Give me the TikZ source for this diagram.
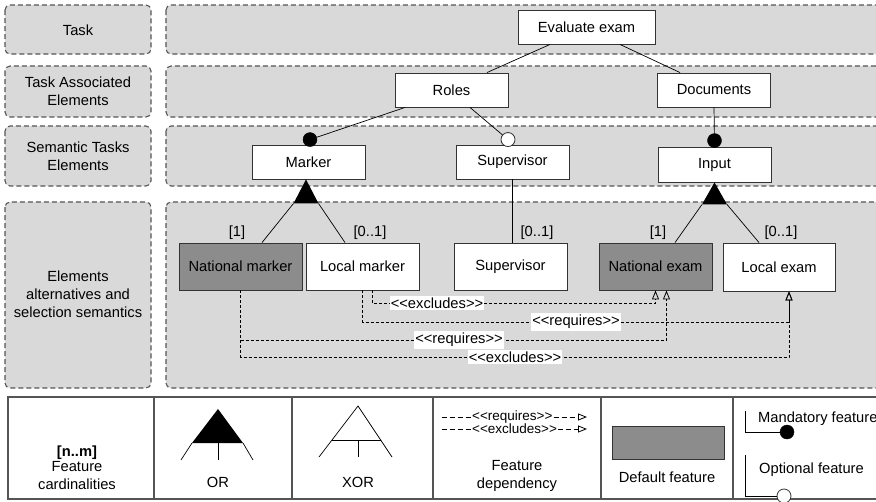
\documentclass[tikz,border=0pt]{standalone}
\usepackage{fontspec}
\setmainfont{Liberation Sans}
\usetikzlibrary{arrows.meta,calc}

\definecolor{lanefill}{HTML}{D9D9D9}
\definecolor{laneline}{HTML}{555555}
\definecolor{deffill}{HTML}{8C8C8C}
\definecolor{boxline}{HTML}{333333}

% stereotype text with plain angle brackets (no guillemet ligature)
\newcommand\stereotype[1]{<\kern0pt<#1>\kern0pt>}

\begin{document}
\begin{tikzpicture}[x=1pt,y=-1pt,
  font=\fontsize{14.7}{18}\selectfont,
  lane/.style={draw=laneline, fill=lanefill, line width=1.1pt,
    dash pattern=on 5pt off 3pt, rounded corners=5pt},
  lanetext/.style={align=center, text=black},
  feat/.style={draw=boxline, fill=white, line width=0.9pt,
    minimum width=113pt, minimum height=34pt, inner sep=0pt},
  deffeat/.style={fill=deffill},
  tall/.style={minimum height=47pt},
  edge/.style={draw=black, line width=0.7pt},
  mand/.style={circle, draw=black, fill=black, minimum size=14pt, inner sep=0pt},
  opt/.style={circle, draw=boxline, fill=white, line width=0.8pt, minimum size=14pt, inner sep=0pt},
  card/.style={inner sep=1pt},
  opentip/.style={-{Triangle[open, length=9pt, width=7pt, line width=0.8pt]}},
  dep/.style={draw=black, line width=0.8pt, dash pattern=on 3pt off 2pt, opentip},
  deplabel/.style={fill=white, inner xsep=1pt, inner ysep=2pt},
  legline/.style={draw=laneline, line width=1.5pt},
  legdash/.style={draw=black, line width=0.8pt, dash pattern=on 5pt off 3pt},
  legtext/.style={font=\fontsize{13.5}{16}\selectfont, inner sep=1pt}
]
\path[use as bounding box] (0,0) rectangle (876,501);
\clip (0,0) rectangle (876,501);

% ---------- swim lanes ----------
\draw[lane] (5,5) rectangle (151,54);
\draw[lane] (166,5) rectangle (900,54);
\draw[lane] (5,66) rectangle (151,117);
\draw[lane] (166,66) rectangle (900,117);
\draw[lane] (5,126) rectangle (151,186);
\draw[lane] (166,126) rectangle (900,186);
\draw[lane] (5,202) rectangle (151,388);
\draw[lane] (166,202) rectangle (900,388);

\node[lanetext] (lTask) at (78,30) {Task};
\node[lanetext] (lAssoc) at (78,91) {Task Associated\\Elements};
\node[lanetext] (lSem) at (78,156) {Semantic Tasks\\Elements};
\node[lanetext] (lAlt) at (78,294) {Elements\\alternatives and\\selection semantics};

% ---------- features ----------
\node[feat, minimum width=137pt] (ev) at (586.5,27) {Evaluate exam};
\node[feat] (roles) at (451.5,90) {Roles};
\node[feat] (docs) at (714,90) {Documents};
\node[feat] (marker) at (308.5,162) {Marker};
\node[feat] (supS) at (512.5,162) {Supervisor};
\node[feat, minimum height=35pt] (input) at (714.5,164.5) {Input};

\node[feat, deffeat, tall, minimum width=123pt] (natm) at (240.5,266.5) {National marker};
\node[feat, tall] (locm) at (362.5,266.5) {Local marker};
\node[feat, tall] (supE) at (510.5,266.5) {Supervisor};
\node[feat, deffeat, tall] (nate) at (655.5,266.5) {National exam};
\node[feat, tall, minimum width=112pt, minimum height=48pt] (loce) at (779,267) {Local exam};

% ---------- mandatory / optional markers ----------
\node[mand] (dMarker) at ($(marker.north)+(1.5,-5)$) {};
\node[opt] (dSup) at ($(supS.north)+(-4.5,-5)$) {};
\node[mand] (dInput) at ($(input.north)+(0,-6)$) {};

% ---------- decomposition edges ----------
\draw[edge] ($(ev.south)+(-36.5,0)$) -- ($(roles.north)+(35.5,0)$);
\draw[edge] ($(ev.south)+(33.5,0)$) -- ($(docs.north)+(-34,0)$);
\draw[edge] ($(roles.south)+(-46.5,0)$) -- (dMarker);
\draw[edge] ($(roles.south)+(18.5,0)$) -- (dSup);
\draw[edge] (docs.south) -- (dInput);
\draw[edge] (supS.south) -- (supS.south |- supE.north);

% OR groups
\coordinate (orM) at ($(marker.south)+(-2.5,0)$);
\fill[black] (orM) -- ++(-12.5,24) coordinate (orML) -- ++(25,0) coordinate (orMR) -- cycle;
\draw[edge] (orML) -- ($(natm.north)+(21.5,0)$);
\draw[edge] (orMR) -- ($(locm.north)+(-17.5,0)$);

\coordinate (orI) at (input.south);
\fill[black] (orI) -- ++(-12.5,22) coordinate (orIL) -- ++(25,0) coordinate (orIR) -- cycle;
\draw[edge] (orIL) -- ($(nate.north)+(19.5,0)$);
\draw[edge] (orIR) -- ($(loce.north)+(-20,0)$);

% cardinalities
\node[card] (cNatm) at (237,233) {[1]};
\node[card] (cLocm) at (370,233) {[0..1]};
\node[card] (cSupE) at (537,233) {[0..1]};
\node[card] (cNate) at (658,233) {[1]};
\node[card] (cLoce) at (781,233) {[0..1]};

% ---------- feature dependencies ----------
\draw[dep] ($(locm.south)+(9.5,0)$) -- ++(0,13) -| (nate.south);
\draw[dep] (locm.south) -- ++(0,32) -| ($(loce.south)+(10,0)$);
\draw[dep] (natm.south) -- ++(0,50) -| ($(nate.south)+(11,0)$);
\draw[dep] (natm.south) -- ++(0,67) -| ($(loce.south)+(10,0)$);

\node[deplabel] (dx1) at (437,303) {\stereotype{excludes}};
\node[deplabel] (dr1) at (576,322) {\stereotype{requires}};
\node[deplabel] (dr2) at (459,340) {\stereotype{requires}};
\node[deplabel] (dx2) at (515,357) {\stereotype{excludes}};

% ---------- legend ----------
\draw[draw=laneline, line width=2pt, fill=white] (8,397) rectangle (900,499);
\foreach \cx in {154,292,433,601,733} \draw[legline] (\cx,397) -- (\cx,499);

% cardinalities
\node (lgCardA) at (77,453) {\textbf{[n..m]}};
\node[align=center] (lgCardB) at (77,476) {Feature\\cardinalities};

% OR
\fill[black] (218,409) -- (192,443) -- (243,443) -- cycle;
\draw[edge] (192,443) -- (181,460);
\draw[edge] (243,443) -- (253,460);
\draw[edge] (218,443) -- (218,460);
\node (lgOr) at (218,482) {OR};

% XOR
\draw[edge] (319,457) -- (358,406) -- (392,457);
\draw[edge] (332,440) -- (380.7,440);
\draw[edge] (358,440) -- (358,457);
\node (lgXor) at (358,482) {XOR};

% dependency
\draw[legdash] (442,417) -- (471,417);
\node[legtext, anchor=west] (lgReq) at (471,417) {\stereotype{requires}};
\draw[legdash, opentip] (lgReq.east) -- (587,417);
\draw[legdash] (442,429) -- (471,429);
\node[legtext, anchor=west] (lgExc) at (471,429) {\stereotype{excludes}};
\draw[legdash, opentip] (lgExc.east) -- (587,429);
\node[align=center] (lgDep) at (517,476) {Feature\\dependency};

% default feature
\node[draw=boxline, fill=deffill, line width=0.9pt, minimum width=112pt,
  minimum height=33pt, inner sep=0pt] (lgDef) at (668,442.5) {};
\node (lgDefT) at (667,477) {Default feature};

% mandatory / optional
\node[mand] (lgMand) at (787,432) {};
\draw[edge] (745,411) -- (745,432) -- (lgMand);
\node[anchor=west, inner sep=1pt] (lgMandT) at (757,419) {Mandatory feature};
\node[opt] (lgOpt) at (784,496) {};
\draw[edge] (745,455) -- (745,496) -- (lgOpt);
\node[anchor=west, inner sep=1pt] (lgOptT) at (758,470) {Optional feature};
\end{tikzpicture}
\end{document}
